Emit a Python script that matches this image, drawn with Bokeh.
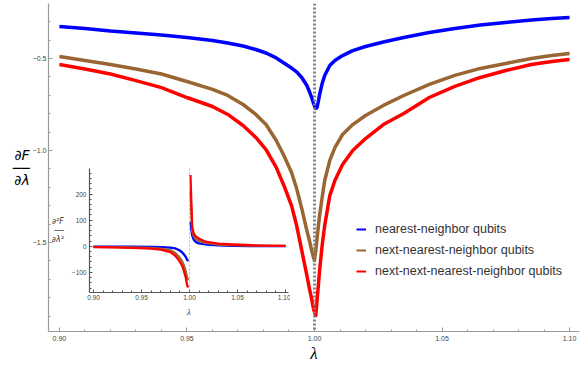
from bokeh.plotting import figure
from bokeh.models import (Span, Legend, LegendItem, SingleIntervalTicker,
                          Range1d, CustomJSTickFormatter)
from bokeh.layouts import column
from bokeh.embed import file_html
from bokeh.resources import INLINE

# ---------------- main panel data: dF/dlambda ----------------
lam = [0.900, 0.910, 0.920, 0.930, 0.940, 0.950, 0.960, 0.966, 0.972, 0.977,
       0.981, 0.985, 0.988, 0.991, 0.993, 0.995, 0.997, 0.998, 0.999, 0.9995,
       1.000, 1.0005, 1.001, 1.0015, 1.002, 1.003, 1.004, 1.006, 1.008, 1.011,
       1.015, 1.020, 1.027, 1.035, 1.045, 1.055, 1.065, 1.075, 1.085, 1.093,
       1.100]

dF_nearest = [-0.326, -0.337, -0.351, -0.361, -0.372, -0.386, -0.402, -0.416, -0.432, -0.451,
              -0.470, -0.497, -0.524, -0.552, -0.573, -0.603, -0.647, -0.679, -0.717, -0.739,
              -0.758, -0.772, -0.766, -0.734, -0.696, -0.636, -0.592, -0.538, -0.511, -0.484,
              -0.457, -0.435, -0.410, -0.386, -0.359, -0.337, -0.318, -0.304, -0.291, -0.283,
              -0.277]

dF_next = [-0.489, -0.511, -0.533, -0.557, -0.584, -0.625, -0.668, -0.701, -0.750, -0.804,
           -0.859, -0.946, -1.027, -1.120, -1.207, -1.315, -1.435, -1.489, -1.549, -1.576,
           -1.598, -1.543, -1.478, -1.413, -1.353, -1.255, -1.163, -1.054, -0.984, -0.913,
           -0.859, -0.810, -0.755, -0.701, -0.641, -0.592, -0.554, -0.527, -0.500, -0.484,
           -0.473]

dF_next_next = [-0.533, -0.557, -0.584, -0.620, -0.658, -0.712, -0.761, -0.804, -0.864, -0.929,
                -0.995, -1.092, -1.190, -1.299, -1.408, -1.543, -1.679, -1.750, -1.815, -1.853,
                -1.880, -1.897, -1.815, -1.734, -1.652, -1.516, -1.408, -1.245, -1.163, -1.076,
                -1.000, -0.935, -0.859, -0.799, -0.712, -0.652, -0.603, -0.565, -0.533, -0.516,
                -0.505]

critical_lambda = 1.0

series_labels = ["nearest-neighbor qubits",
                 "next-nearest-neighbor qubits",
                 "next-next-nearest-neighbor qubits"]
series_colors = ["#0000ff", "#996633", "#ff0000"]

# ---------------- inset data: d2F/dlambda2 ----------------
nan = float("nan")
inset_lam = [0.900, 0.920, 0.940, 0.960, 0.970, 0.980, 0.985, 0.989, 0.992, 0.994,
             0.996, 0.9976, 0.9988, 1.000, 1.0010, 1.0018, 1.0028, 1.0045, 1.0065, 1.0097,
             1.015, 1.018, 1.030, 1.045, 1.065, 1.080, 1.100]

d2F_nearest = [-1, -1, -1.5, -2.5, -3, -5, -8, -14, -22, -30,
               -40, -52, -56, nan, 94, 68, 42, 25, 17, 11,
               8, 7, 4, 2, 1, 1, 0.5]

d2F_next = [-2, -3, -4, -6, -9, -15, -25, -40, -55, -72,
            -95, -122, -130, nan, 210, 140, 60, 38, 28, 21,
            14, 12, 7, 5, 3, 2, 1.5]

d2F_next_next = [-3, -4, -6, -9, -13, -22, -35, -54, -72, -92,
                 -118, -150, -158, nan, 273, 180, 74, 48, 38, 30,
                 20, 17, 10, 7, 4, 3, 2]

AXIS_GRAY = "#9a9a9a"
LABEL_GRAY = "#444444"

# ================= main figure =================
p = figure(width=581, height=365,
           x_range=Range1d(0.895720, 1.103891), y_range=Range1d(-1.98370, -0.20109),
           output_backend="svg", toolbar_location=None,
           min_border_left=45, min_border_right=1, min_border_top=3, min_border_bottom=34)
p.outline_line_color = None
p.grid.visible = False

p.xaxis.ticker = SingleIntervalTicker(interval=0.05, num_minor_ticks=5)
p.yaxis.ticker = SingleIntervalTicker(interval=0.5, num_minor_ticks=5)
p.xaxis.formatter = CustomJSTickFormatter(code="return tick.toFixed(2);")
p.yaxis.formatter = CustomJSTickFormatter(code="return tick.toFixed(1).replace('-', '\u2212');")
for ax in p.axis:
    ax.axis_line_color = AXIS_GRAY
    ax.axis_line_width = 1.2
    ax.major_tick_line_color = AXIS_GRAY
    ax.minor_tick_line_color = AXIS_GRAY
    ax.major_tick_in = 4
    ax.major_tick_out = 0
    ax.minor_tick_in = 2
    ax.minor_tick_out = 0
    ax.major_label_text_font = "Liberation Sans"
    ax.major_label_text_font_size = "7px"
    ax.major_label_text_color = LABEL_GRAY
p.yaxis.major_label_standoff = 2
p.xaxis.major_label_standoff = 4
p.xaxis.axis_label = "λ"
p.xaxis.axis_label_text_font = "Liberation Serif"
p.xaxis.axis_label_text_font_style = "italic"
p.xaxis.axis_label_text_font_size = "17px"
p.xaxis.axis_label_text_color = "black"
p.xaxis.axis_label_standoff = 0

p.yaxis.axis_label = "∂F\n──\n∂λ"
p.yaxis.axis_label_orientation = "horizontal"
p.yaxis.axis_label_text_font = "DejaVu Sans"
p.yaxis.axis_label_text_font_style = "italic"
p.yaxis.axis_label_text_font_size = "14px"
p.yaxis.axis_label_text_line_height = 0.8
p.yaxis.axis_label_text_align = "center"
p.yaxis.axis_label_text_color = "black"
p.yaxis.axis_label_standoff = 0

p.add_layout(Span(location=critical_lambda, dimension="height", line_color="#808080",
                  line_width=3, line_dash="2 2"))

for ys, c in zip([dF_nearest, dF_next, dF_next_next], series_colors):
    p.line(lam, ys, line_color=c, line_width=3.5, line_join="round")

# legend with thin samples (renderers hold no visible data)
items = []
for lbl, c in zip(series_labels, series_colors):
    r = p.line(x=[nan], y=[nan], line_color=c, line_width=2)
    items.append(LegendItem(label=lbl, renderers=[r]))
legend = Legend(items=items, location=(308, 53), border_line_alpha=0,
                background_fill_alpha=0, padding=0, margin=0, spacing=7,
                glyph_width=10, glyph_height=14, label_height=14, label_standoff=9,
                label_text_font="Liberation Sans", label_text_font_size="12.5px",
                label_text_color="#333333")
p.add_layout(legend)

# ================= inset figure =================
ip = figure(width=249, height=157,
            x_range=Range1d(0.89583, 1.10312), y_range=Range1d(-176.9, 298),
            output_backend="svg", toolbar_location=None,
            min_border_left=48, min_border_right=2, min_border_top=5, min_border_bottom=28)
ip.styles = {"position": "absolute", "left": "41px", "top": "163px"}
ip.outline_line_color = None
ip.grid.visible = False
ip.background_fill_alpha = 0
ip.border_fill_alpha = 0
ip.xaxis.ticker = SingleIntervalTicker(interval=0.05, num_minor_ticks=5)
ip.yaxis.ticker = SingleIntervalTicker(interval=100, num_minor_ticks=5)
ip.xaxis.formatter = CustomJSTickFormatter(code="return tick.toFixed(2);")
ip.yaxis.formatter = CustomJSTickFormatter(code="return tick.toFixed(0).replace('-', '\u2212');")
for ax in ip.axis:
    ax.axis_line_color = "#555555"
    ax.axis_line_width = 1.2
    ax.major_tick_line_color = "#555555"
    ax.minor_tick_line_color = "#555555"
    ax.major_tick_in = 3
    ax.major_tick_out = 0
    ax.minor_tick_in = 2
    ax.minor_tick_out = 0
    ax.major_label_text_font = "Liberation Sans"
    ax.major_label_text_font_size = "6.5px"
    ax.major_label_text_color = LABEL_GRAY
ip.yaxis.major_label_standoff = 3
ip.xaxis.major_label_standoff = 2
ip.xaxis.axis_label = "λ"
ip.xaxis.axis_label_text_font = "Liberation Serif"
ip.xaxis.axis_label_text_font_style = "italic"
ip.xaxis.axis_label_text_font_size = "9px"
ip.xaxis.axis_label_text_color = LABEL_GRAY
ip.xaxis.axis_label_standoff = 4

ip.yaxis.axis_label = "∂²F\n──\n∂λ²"
ip.yaxis.axis_label_orientation = "horizontal"
ip.yaxis.axis_label_text_font = "DejaVu Sans"
ip.yaxis.axis_label_text_font_style = "italic"
ip.yaxis.axis_label_text_font_size = "8px"
ip.yaxis.axis_label_text_line_height = 0.95
ip.yaxis.axis_label_text_align = "center"
ip.yaxis.axis_label_text_color = "#333333"
ip.yaxis.axis_label_standoff = 5

for ys, c in zip([d2F_nearest, d2F_next, d2F_next_next], series_colors):
    ip.line(inset_lam, ys, line_color=c, line_width=2.3, line_join="round")

ip.add_layout(Span(location=critical_lambda, dimension="height", line_color="#bbbbbb",
                   line_width=1.2, line_dash="2 2"))

layout = column(p, ip)
open("out.html", "w").write(file_html(layout, INLINE))
